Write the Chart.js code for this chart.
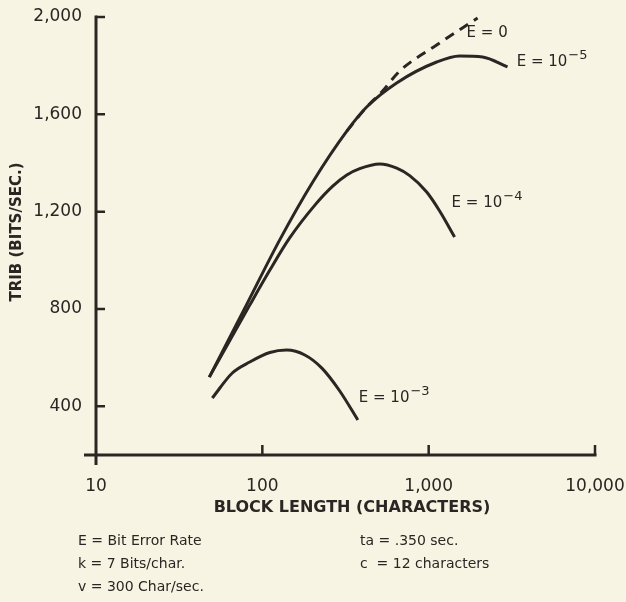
<!DOCTYPE html>
<html>
<head>
<meta charset="utf-8">
<script src="https://cdn.jsdelivr.net/npm/chart.js@4.4.1/dist/chart.umd.min.js"></script>
<style>
  html, body { margin: 0; padding: 0; background: #f8f4e3; }
  #wrap { position: relative; width: 626px; height: 602px; }
  canvas { display: block; }
</style>
</head>
<body>
<div id="wrap"><canvas id="myChart" width="626" height="602"></canvas></div>
<script>
// block length (characters) / TRIB (bits/sec)
const e0X = [322, 424, 522, 670, 1117, 1968];
const e0Y = [1531, 1630, 1692, 1778, 1885, 1996];

const e5X = [48, 78, 127, 201, 322, 424, 642, 1117, 1535, 2109, 2979];
const e5Y = [520, 800, 1083, 1322, 1531, 1630, 1729, 1815, 1840, 1836, 1795];

const e4X = [48, 84, 111, 146, 207, 265, 322, 385, 508, 643, 769, 973, 1164, 1432];
const e4Y = [520, 816, 960, 1092, 1227, 1305, 1351, 1377, 1396, 1379, 1348, 1281, 1203, 1096];

const e3X = [50, 66, 84, 111, 140, 180, 228, 292, 375];
const e3Y = [434, 537, 582, 621, 631, 611, 557, 463, 344];

const xTicks = [10, 100, 1000, 10000];
const yTicks = [400, 800, 1200, 1600, 2000];

// curve labels: text, superscript, anchor (block length, bits/sec)
const curveLabels = [
    { text: 'E = 0', sup: '', at: [1690, 1934] },
    { text: 'E = 10', sup: '\u22125', at: [3380, 1815] },
    { text: 'E = 10', sup: '\u22124', at: [1374, 1236] },
    { text: 'E = 10', sup: '\u22123', at: [380, 434] }
];

const notesLeft = ['E = Bit Error Rate', 'k = 7 Bits/char.', 'v = 300 Char/sec.'];
const notesRight = ['ta = .350 sec.', 'c  = 12 characters'];

const ink = '#2a2623';
const fontFam = '"DejaVu Sans", sans-serif';

function pts(xs, ys) {
    return xs.map((x, i) => ({ x: x, y: ys[i] }));
}

const paperPlugin = {
    id: 'paper',
    beforeDraw(chart) {
        const c = chart.ctx;
        c.save();
        c.fillStyle = '#f8f4e3';
        c.fillRect(0, 0, chart.width, chart.height);
        c.restore();
    },
    afterDraw(chart) {
        const c = chart.ctx;
        const xs = chart.scales.x, ys = chart.scales.y;
        const a = chart.chartArea;
        c.save();
        c.strokeStyle = ink;
        c.fillStyle = ink;
        c.lineWidth = 3;
        c.lineCap = 'butt';
        // axes
        c.beginPath();
        c.moveTo(a.left, ys.getPixelForValue(2000) - 1.5);
        c.lineTo(a.left, a.bottom + 10);
        c.moveTo(a.left - 12, a.bottom);
        c.lineTo(xs.getPixelForValue(10000) + 1.5, a.bottom);
        c.stroke();
        // ticks pointing inward
        c.lineWidth = 2.5;
        c.beginPath();
        yTicks.forEach(v => {
            const py = ys.getPixelForValue(v);
            c.moveTo(a.left, py);
            c.lineTo(a.left + 9, py);
        });
        xTicks.slice(1).forEach(v => {
            const px = xs.getPixelForValue(v);
            c.moveTo(px, a.bottom);
            c.lineTo(px, a.bottom - 10);
        });
        c.stroke();

        // axis titles
        c.textAlign = 'center';
        c.textBaseline = 'middle';
        c.font = 'bold 16px ' + fontFam;
        c.fillText('BLOCK LENGTH (CHARACTERS)', 352, 508);
        c.save();
        c.translate(17, 232);
        c.rotate(-Math.PI / 2);
        c.font = 'bold 15px ' + fontFam;
        c.fillText('TRIB (BITS/SEC.)', 0, 0);
        c.restore();

        // curve labels
        c.textAlign = 'left';
        curveLabels.forEach(l => {
            const px = xs.getPixelForValue(l.at[0]);
            const py = ys.getPixelForValue(l.at[1]);
            c.font = '15px ' + fontFam;
            c.fillText(l.text, px, py);
            if (l.sup) {
                const w = c.measureText(l.text).width;
                c.font = '13px ' + fontFam;
                c.fillText(l.sup, px + w + 1, py - 6);
            }
        });

        // notes under the chart
        c.font = '14px ' + fontFam;
        notesLeft.forEach((t, i) => c.fillText(t, 78, 541 + i * 23));
        notesRight.forEach((t, i) => c.fillText(t, 360, 541 + i * 23));
        c.restore();
    }
};

const ctx = document.getElementById('myChart').getContext('2d');
const lineStyle = {
    borderColor: ink,
    borderWidth: 3,
    pointRadius: 0,
    fill: false,
    cubicInterpolationMode: 'monotone',
    clip: 6
};

const myChart = new Chart(ctx, {
    type: 'line',
    data: {
        datasets: [
            Object.assign({ label: 'E=0', data: pts(e0X, e0Y), borderDash: [10, 7] }, lineStyle),
            Object.assign({ label: 'E=10-5', data: pts(e5X, e5Y) }, lineStyle),
            Object.assign({ label: 'E=10-4', data: pts(e4X, e4Y) }, lineStyle),
            Object.assign({ label: 'E=10-3', data: pts(e3X, e3Y) }, lineStyle)
        ]
    },
    options: {
        responsive: false,
        animation: false,
        layout: {
            padding: { top: 17, right: 31, bottom: 0, left: 0 }
        },
        plugins: {
            legend: { display: false },
            tooltip: { enabled: false }
        },
        scales: {
            x: {
                type: 'logarithmic',
                min: 10,
                max: 10000,
                afterBuildTicks: s => { s.ticks = xTicks.map(v => ({ value: v })); },
                afterFit: s => { s.height = 147; s.paddingLeft = 0; s.paddingRight = 0; },
                grid: { display: false, drawTicks: false },
                border: { display: false },
                ticks: {
                    color: ink,
                    font: { family: fontFam, size: 17 },
                    padding: 21,
                    maxRotation: 0,
                    autoSkip: false,
                    callback: v => Number(v).toLocaleString('en-US')
                }
            },
            y: {
                type: 'linear',
                min: 200,
                max: 2000,
                afterBuildTicks: s => { s.ticks = yTicks.map(v => ({ value: v })); },
                afterFit: s => { s.width = 96; s.paddingTop = 0; s.paddingBottom = 0; },
                grid: { display: false, drawTicks: false },
                border: { display: false },
                ticks: {
                    color: ink,
                    font: { family: fontFam, size: 17 },
                    padding: 14,
                    callback: v => Number(v).toLocaleString('en-US')
                }
            }
        }
    },
    plugins: [paperPlugin]
});
</script>
</body>
</html>
